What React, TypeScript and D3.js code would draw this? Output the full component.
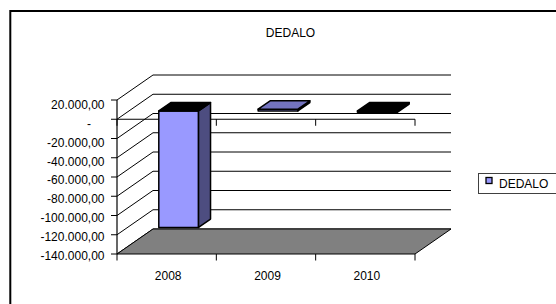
import * as d3 from "d3";

// chart data
const categories = ["2008", "2009", "2010"];
const values = [-121000, 1800, -1500];
const seriesName = "DEDALO";
const yTicks = [20000, 0, -20000, -40000, -60000, -80000, -100000, -120000, -140000];

const W = 556;
const H = 304;
const DX = 36; // depth offset of the 3d box
const DY = -25;
const FONT = "'Liberation Sans', Arial, sans-serif";

const itLocale = d3.formatLocale({
  decimal: ",",
  thousands: ".",
  grouping: [3],
  currency: ["", " €"],
  minus: "-",
});
const fmt = itLocale.format(",.2f");
const tickLabel = (v: number) => (v === 0 ? "-" : fmt(v));

export default function App() {
  const x = d3
    .scaleBand<string>()
    .domain(categories)
    .range([117, 415])
    .paddingInner(0.6)
    .paddingOuter(0.3);
  const y = d3.scaleLinear().domain([-140000, 20000]).range([254, 100]);
  // labels in the original sit on a slightly tighter grid than the ticks
  const yLabel = d3.scaleLinear().domain([-140000, 20000]).range([259.5, 109.3]);

  const [x0, x1] = x.range();
  const step = x.step();
  const boundaries = d3.range(categories.length + 1).map((i) => x0 + i * step);

  // project a front-plane point back by depth fraction f
  const p = (px: number, py: number, f: number) => [px + f * DX, py + f * DY];
  const poly = (pts: number[][]) => pts.map((q) => q.join(",")).join(" ");

  const yTop = y(20000);
  const yBottom = y(-140000);
  const y0 = y(0);

  const bars = categories.map((c, i) => {
    const v = values[i];
    const bx0 = x(c)!;
    const bx1 = bx0 + x.bandwidth();
    const f0 = 1 / 3;
    const f1 = 2 / 3;
    const yv = y(v);
    const top = Math.min(yv, y0);
    const bottom = Math.max(yv, y0);
    const neg = v < 0;
    const front = [p(bx0, top, f0), p(bx1, top, f0), p(bx1, bottom, f0), p(bx0, bottom, f0)];
    const side = [p(bx1, top, f0), p(bx1, top, f1), p(bx1, bottom, f1), p(bx1, bottom, f0)];
    const cap = [p(bx0, top, f0), p(bx0, top, f1), p(bx1, top, f1), p(bx1, top, f0)];
    return (
      <g key={c}>
        <polygon points={poly(front)} fill="#9999FF" stroke="#000" strokeWidth={1.5} strokeLinejoin="round" />
        <polygon points={poly(side)} fill="#4D4D80" stroke="#000" strokeWidth={1.5} strokeLinejoin="round" />
        <polygon points={poly(cap)} fill={neg ? "#000" : "#7373BF"} stroke="#000" strokeWidth={1.5} strokeLinejoin="round" />
      </g>
    );
  });

  return (
    <svg
      width={W}
      height={H}
      style={{ position: "absolute", left: 0, top: 0, background: "#fff" }}
      fontFamily={FONT}
    >
      <rect x={10.3} y={11} width={600} height={400} fill="#fff" stroke="#000" strokeWidth={2} />
      <text x={290.5} y={37} textAnchor="middle" fontSize={12} fill="#000">
        {seriesName}
      </text>

      {/* back wall gridlines and side wall diagonals */}
      {yTicks.map((t) => {
        const [bx, by] = p(x0, y(t), 1);
        const [ex] = p(x1, y(t), 1);
        return (
          <g key={t}>
            <line x1={bx} y1={by} x2={ex} y2={by} stroke="#000" strokeWidth={1} />
            <line x1={x0} y1={y(t)} x2={bx} y2={by} stroke="#000" strokeWidth={1} />
          </g>
        );
      })}

      {/* floor */}
      <polygon
        points={poly([p(x0, yBottom, 0), p(x1, yBottom, 0), p(x1, yBottom, 1), p(x0, yBottom, 1)])}
        fill="#808080"
        stroke="#000"
        strokeWidth={1}
      />

      {/* value axis */}
      <line x1={x0} y1={yTop} x2={x0} y2={yBottom} stroke="#000" strokeWidth={1.2} />
      {yTicks.map((t) => (
        <g key={"t" + t}>
          <line x1={x0 - 6} y1={y(t)} x2={x0} y2={y(t)} stroke="#000" strokeWidth={1} />
          <text
            x={t === 0 ? 89 : 104.5}
            y={yLabel(t)}
            textAnchor={t === 0 ? "middle" : "end"}
            fontSize={12}
            fill="#000"
          >
            {tickLabel(t)}
          </text>
        </g>
      ))}

      {/* zero line with category ticks */}
      <line x1={x0} y1={y0} x2={x1} y2={y0} stroke="#000" strokeWidth={1.2} />
      {boundaries.map((b) => (
        <line key={"z" + b} x1={b} y1={y0} x2={b} y2={y0 + 6.5} stroke="#000" strokeWidth={1} />
      ))}

      {/* floor front edge ticks and labels */}
      {boundaries.map((b) => (
        <line key={"f" + b} x1={b} y1={yBottom} x2={b} y2={yBottom + 6.5} stroke="#000" strokeWidth={1} />
      ))}
      {categories.map((c) => (
        <text key={"l" + c} x={x(c)! + x.bandwidth() / 2 + 1.5} y={280} textAnchor="middle" fontSize={12} fill="#000">
          {c}
        </text>
      ))}

      {bars}

      {/* legend */}
      <rect x={478.5} y={173.5} width={90} height={20} fill="#fff" stroke="#404040" strokeWidth={1} />
      <rect x={486} y={177.5} width={6} height={6} fill="#9999FF" stroke="#000" strokeWidth={1.3} />
      <text x={499} y={188} fontSize={12} fill="#000">
        {seriesName}
      </text>
    </svg>
  );
}
